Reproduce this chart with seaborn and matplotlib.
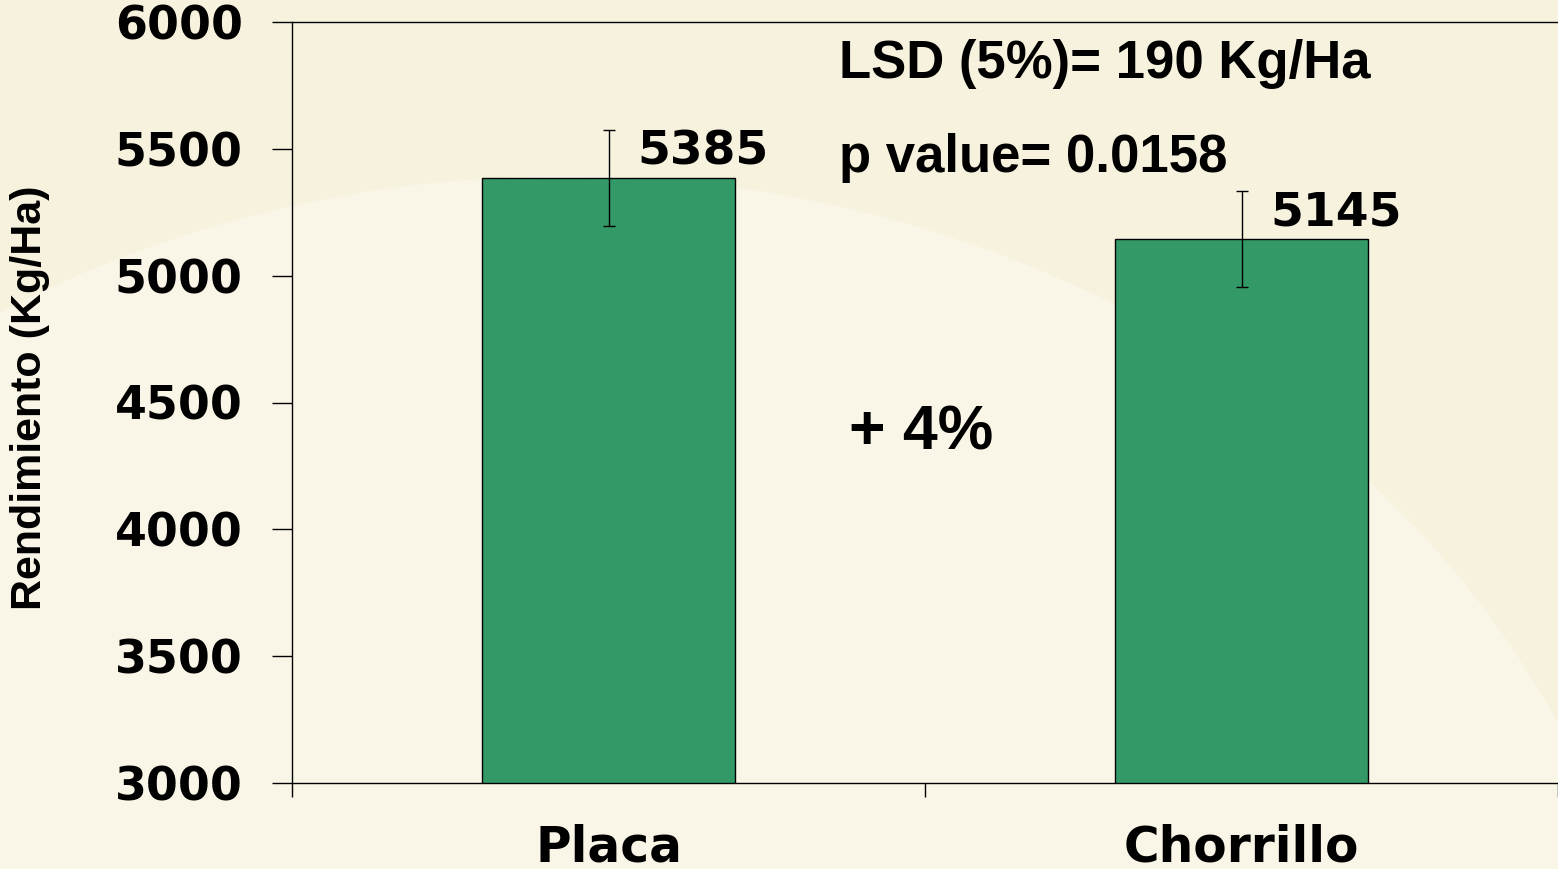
import matplotlib
matplotlib.use("Agg")
import matplotlib.pyplot as plt
import seaborn as sns
import pandas as pd
from matplotlib.patches import Ellipse

# ---- data ----
categories = ["Placa", "Chorrillo"]
values = [5385, 5145]
errors = [190, 190]
y_ticks = [3000, 3500, 4000, 4500, 5000, 5500, 6000]
ylabel = "Rendimiento (Kg/Ha)"
lsd_text = "LSD (5%)= 190 Kg/Ha"
p_text = "p value= 0.0158"
diff_text = "+ 4%"

sns.set_theme(style="ticks")
plt.rcParams["font.family"] = ["DejaVu Sans"]
for k in ["text.color", "axes.labelcolor", "xtick.color", "ytick.color", "axes.edgecolor"]:
    plt.rcParams[k] = "black"

W, H = 1558, 869
fig = plt.figure(figsize=(W / 100, H / 100), dpi=100)
outer_bg = "#F7F2DE"
inner_bg = "#F9F6E7"
fig.patch.set_facecolor(outer_bg)

left = 292 / W
bottom = 1 - 783 / H
top = 1 - 22 / H
ax = fig.add_axes([left, bottom, 1.0 - left, top - bottom])
ax.set_facecolor("none")
ax.set_zorder(2)

# lighter arc in background
ell = Ellipse((565 / W, 1 - 1136 / H), 2200 / W, 1920 / H,
              transform=fig.transFigure, facecolor=inner_bg, edgecolor="none", zorder=-5)
fig.patches.append(ell)

df = pd.DataFrame({"cat": categories, "val": values})
sns.barplot(data=df, x="cat", y="val", color="#339966", saturation=1,
            edgecolor="black", linewidth=1.0, width=0.4, errorbar=None, ax=ax, zorder=2)

ax.errorbar(range(len(categories)), values, yerr=errors, fmt="none",
            ecolor="black", elinewidth=1.0, capsize=4, capthick=1.0, zorder=3)

ax.set_xlim(-0.5, 1.5)
ax.set_ylim(3000, 6000)
ax.set_yticks(y_ticks)
ax.set_yticklabels([str(t) for t in y_ticks], fontsize=33, fontweight="bold")

ax.set_xticks(range(len(categories)))
ax.set_xticklabels(categories, fontsize=35, fontweight="bold")
ax.set_xticks([-0.5, 0.5, 1.5], minor=True)
ax.tick_params(axis="x", which="major", length=0, pad=29)
ax.tick_params(axis="x", which="minor", length=10, width=1.0, direction="out", color="black")
ax.tick_params(axis="y", which="major", length=14.5, width=1.0, direction="out",
               color="black", pad=21)

ax.set_xlabel("")
ax.set_ylabel(ylabel, fontsize=31, fontweight="bold", family=["Liberation Sans", "DejaVu Sans"])
ax.yaxis.set_label_coords(-0.191, 0.506)

for s in ["left", "top", "bottom"]:
    ax.spines[s].set_color("black")
    ax.spines[s].set_linewidth(1.0)
ax.spines["right"].set_visible(False)
ax.spines["top"].set_visible(True)

# value labels
for i, v in enumerate(values):
    ax.annotate(str(v), xy=(i, v), xytext=(21, 9.5), textcoords="offset points",
                ha="left", va="baseline", fontsize=34, fontweight="bold", color="black", zorder=4)

ax.text(0.364, 5779, lsd_text, fontsize=38, fontweight="bold", ha="left", va="baseline",
        family=["Liberation Sans", "DejaVu Sans"], color="black")
ax.text(0.364, 5409, p_text, fontsize=38, fontweight="bold", ha="left", va="baseline",
        family=["Liberation Sans", "DejaVu Sans"], color="black")
ax.text(0.380, 4313, diff_text, fontsize=45, fontweight="bold", ha="left", va="baseline",
        family=["Liberation Sans", "DejaVu Sans"], color="black")

fig.savefig("out.png", dpi=100, facecolor=fig.get_facecolor())
